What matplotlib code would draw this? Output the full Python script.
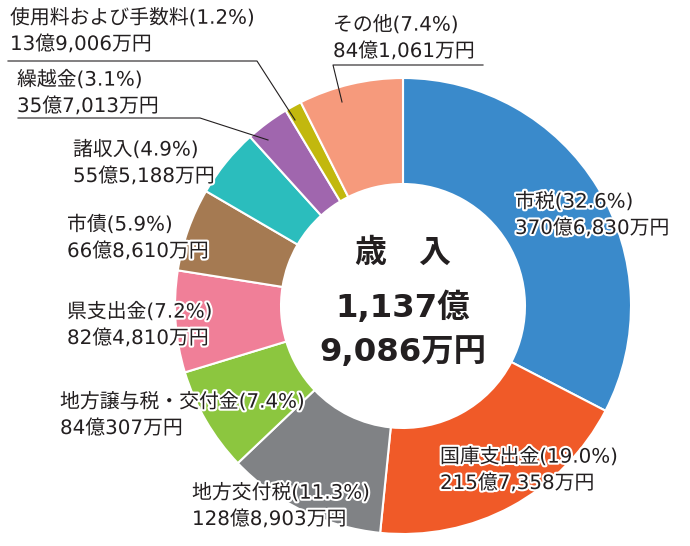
import matplotlib
matplotlib.use("Agg")
import matplotlib.pyplot as plt
import matplotlib.patheffects as pe

# DejaVu first for the wide latin digits, CJK font for the kanji/kana
plt.rcParams['font.family'] = ['DejaVu Sans', 'Noto Sans CJK JP']

# ─── Data ─────────────────────────────────────────────────────────────────────

names = ['市税', '国庫支出金', '地方交付税', '地方譲与税・交付金', '県支出金',
         '市債', '諸収入', '繰越金', '使用料および手数料', 'その他']
shares = [32.6, 19.0, 11.3, 7.4, 7.2, 5.9, 4.9, 3.1, 1.2, 7.4]
amounts = ['370億6,830万円', '215億7,358万円', '128億8,903万円', '84億307万円',
           '82億4,810万円', '66億8,610万円', '55億5,188万円', '35億7,013万円',
           '13億9,006万円', '84億1,061万円']
colors = ['#3a8acb', '#f05a28', '#808285', '#8cc63f', '#f07f98',
          '#a57a52', '#2bbdbd', '#a066ae', '#c2b80e', '#f69a7c']
total_label = ['歳　入', '1,137億', '9,086万円']

# label anchor (left x, top-line y) in pixels from top-left
label_pos = [(515, 202), (440, 457), (192, 493), (60, 402), (67, 312),
             (67, 225), (73, 150), (17, 80), (10, 18), (333, 25)]
# leader lines: underline start x, underline end x, underline y, tip (x, y)
leaders = {
    7: (18, 200, 118, (268, 140)),
    8: (8, 257, 61, (295, 120)),
    9: (483, 333, 65, (342, 102)),
}

W, H = 690, 546
CX, CY, R = 403, 306, 228

fig = plt.figure(figsize=(W / 100, H / 100), dpi=100)
ax = fig.add_axes([0, 0, 1, 1])

ax.pie(shares, colors=colors, startangle=90, counterclock=False,
       center=(CX, H - CY), radius=R, frame=True,
       wedgeprops=dict(width=R * 0.465, edgecolor='white', linewidth=1.5))
ax.set_xlim(0, W)
ax.set_ylim(0, H)
ax.set_aspect('equal')
ax.axis('off')

stroke = [pe.withStroke(linewidth=3, foreground='white')]
for i, (name, s, amt) in enumerate(zip(names, shares, amounts)):
    x, y = label_pos[i]
    ax.text(x, H - y, f'{name}({s:.1f}%)', fontsize=14.3, color='#231f20',
            ha='left', va='center', path_effects=stroke)
    ax.text(x, H - y - 26.5, amt, fontsize=14.3, color='#231f20',
            ha='left', va='center', path_effects=stroke)

for i, (x0, x1, ly, tip) in leaders.items():
    ax.plot([x0, x1, tip[0]], [H - ly, H - ly, H - tip[1]],
            color='#231f20', lw=0.8)

ax.text(CX, H - 253, total_label[0], fontsize=23, fontweight='bold',
        ha='center', va='center', color='#231f20')
ax.text(CX, H - 308, total_label[1], fontsize=23.3, fontweight='bold',
        ha='center', va='center', color='#231f20')
ax.text(CX, H - 353, total_label[2], fontsize=23.3, fontweight='bold',
        ha='center', va='center', color='#231f20')

fig.savefig('out.png', dpi=100)
